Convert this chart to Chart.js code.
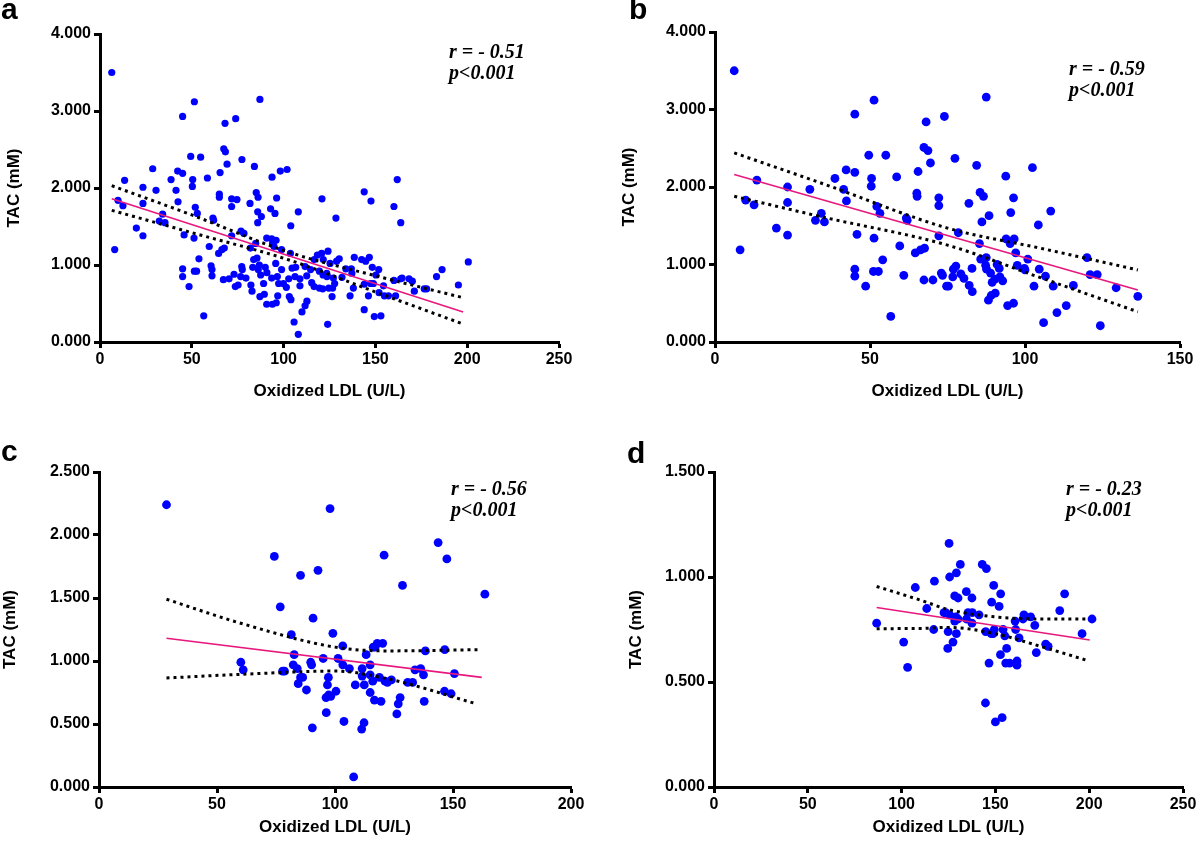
<!DOCTYPE html>
<html>
<head>
<meta charset="utf-8">
<script src="https://cdn.jsdelivr.net/npm/chart.js@4.4.1/dist/chart.umd.min.js"></script>
<style>
    html, body { margin: 0; padding: 0; background: #fff; }
    #fig { position: relative; width: 1200px; height: 841px; overflow: hidden; }
    canvas { position: absolute; }
    .letter { position: absolute; font: bold 30px "Liberation Sans", Arial, sans-serif; line-height: 30px; color: #000; }
    .stat { position: absolute; font: italic bold 20px "Liberation Serif", "Times New Roman", serif; line-height: 21px; color: #000; white-space: pre; }
</style>
</head>
<body>
<div id="fig">
    <canvas id="chartA" width="590" height="410" style="left:0px;top:0px"></canvas>
    <canvas id="chartB" width="590" height="410" style="left:610px;top:0px"></canvas>
    <canvas id="chartC" width="600" height="411" style="left:0px;top:430px"></canvas>
    <canvas id="chartD" width="590" height="411" style="left:610px;top:430px"></canvas>

    <div class="letter" style="left:1px;top:-6px">a</div>
    <div class="letter" style="left:629px;top:-6px">b</div>
    <div class="letter" style="left:1px;top:436px">c</div>
    <div class="letter" style="left:627px;top:438px">d</div>

    <div class="stat" style="left:449px;top:41px">r = - 0.51<br>p&lt;0.001</div>
    <div class="stat" style="left:1069px;top:58px">r = - 0.59<br>p&lt;0.001</div>
    <div class="stat" style="left:451px;top:478px">r = - 0.56<br>p&lt;0.001</div>
    <div class="stat" style="left:1066px;top:478px">r = - 0.23<br>p&lt;0.001</div>
</div>

<script>
// Data: [oxidized LDL (U/L), TAC (mM)]
const pointsA = [
    [6.4,3.50],[51.4,3.12],[87.1,3.15],[45.0,2.93],[68.1,2.84],[73.9,2.90],[67.4,2.51],[68.3,2.47],[49.4,2.41],[54.8,2.40],
    [69.2,2.31],[77.3,2.37],[84.1,2.28],[28.7,2.25],[42.3,2.22],[45.0,2.19],[38.7,2.11],[50.5,2.11],[58.5,2.13],[65.4,2.20],
    [93.7,2.14],[98.2,2.22],[101.9,2.24],[13.4,2.10],[23.4,2.01],[50.3,2.02],[30.5,1.97],[41.4,1.97],[65.0,1.92],[65.0,1.88],
    [71.7,1.86],[74.6,1.85],[71.7,1.76],[42.5,1.82],[23.4,1.80],[9.8,1.84],[12.5,1.77],[51.9,1.75],[53.0,1.67],[85.1,1.94],
    [86.1,1.88],[96.2,1.87],[120.9,1.86],[81.7,1.80],[92.9,1.73],[85.9,1.69],[87.9,1.63],[95.3,1.67],[108.0,1.69],[34.1,1.66],
    [32.3,1.57],[35.4,1.55],[61.5,1.61],[61.9,1.58],[85.9,1.55],[19.8,1.48],[23.4,1.38],[8.0,1.20],[45.8,1.39],[51.2,1.35],
    [71.7,1.38],[76.8,1.44],[78.4,1.41],[103.9,1.51],[59.5,1.24],[64.6,1.15],[66.4,1.20],[67.7,1.22],[53.9,1.08],[81.9,1.22],
    [84.8,1.28],[90.8,1.35],[93.5,1.34],[95.9,1.32],[94.0,1.28],[94.8,1.24],[98.9,1.20],[103.7,1.15],[60.5,0.99],[61.0,0.94],
    [61.0,0.86],[45.0,0.95],[45.0,0.85],[51.4,0.92],[52.6,0.92],[48.5,0.72],[56.5,0.34],[67.2,0.81],[70.3,0.82],[73.0,0.88],
    [73.7,0.72],[75.2,0.74],[77.2,0.98],[77.5,0.94],[76.6,0.85],[79.5,0.83],[82.2,0.74],[82.8,0.66],[83.2,0.97],[83.7,1.07],
    [85.5,1.09],[86.8,1.00],[86.2,0.94],[87.5,0.87],[89.1,0.76],[90.0,0.97],[90.9,0.90],[87.1,0.59],[89.5,0.62],[90.8,0.49],
    [93.9,0.49],[96.0,0.51],[96.8,0.60],[93.5,0.83],[95.7,1.02],[96.6,0.85],[97.3,0.76],[98.9,0.94],[99.9,0.76],[101.5,0.71],
    [102.8,0.82],[103.1,0.59],[104.0,0.55],[105.7,0.26],[108.0,0.10],[104.6,0.96],[106.6,0.97],[106.2,0.85],[108.9,0.82],[108.9,0.73],
    [110.0,0.39],[111.7,0.47],[112.7,0.53],[111.7,0.98],[112.6,0.86],[114.7,0.94],[115.3,0.77],[116.6,0.72],[116.7,1.07],[118.4,1.13],
    [120.7,1.15],[119.5,0.92],[119.5,0.70],[121.5,0.87],[123.5,0.89],[123.6,0.85],[124.0,0.23],[124.6,0.70],[124.2,1.18],
    [161.9,2.11],[143.9,1.95],[147.6,1.83],[160.1,1.76],[163.8,1.55],[128.5,1.61],[200.6,1.04],[186.3,0.94],[183.3,0.85],[195.2,0.74],
    [121.6,1.07],[125.3,1.02],[128.9,1.05],[130.3,1.08],[138.5,1.10],[142.5,1.07],[144.7,1.05],[146.7,1.10],[148.3,0.97],[151.8,0.94],
    [150.3,0.87],[133.9,0.95],[136.9,0.95],[137.2,0.89],[131.8,0.84],[127.1,0.83],[123.8,0.86],[127.8,0.76],[126.7,0.70],[126.4,0.59],
    [121.3,0.69],[138.0,0.70],[136.2,0.60],[143.9,0.75],[146.2,0.60],[147.4,0.76],[148.9,0.76],[152.0,0.64],[154.4,0.73],[154.9,0.60],
    [157.1,0.60],[160.1,0.80],[161.0,0.60],[163.8,0.82],[164.5,0.83],[168.3,0.82],[170.1,0.79],[171.2,0.66],[176.6,0.69],[177.9,0.69],
    [143.9,0.42],[149.4,0.33],[153.0,0.34]
];
const pointsB = [
    [6.2,3.50],[8.1,1.19],[13.5,2.09],[9.9,1.83],[12.6,1.77],[19.8,1.47],[23.4,2.00],[23.4,1.80],[23.4,1.38],[30.6,1.97],
    [32.4,1.57],[34.3,1.66],[35.3,1.55],[38.7,2.11],[41.5,1.97],[42.3,2.22],[42.4,1.82],[45.1,2.94],[45.1,2.19],[45.1,0.94],
    [45.1,0.85],[45.8,1.39],[48.6,0.72],[49.6,2.41],[50.5,2.11],[50.4,2.01],[51.3,3.12],[51.3,1.34],[51.1,0.91],[52.7,0.91],
    [52.2,1.75],[53.2,1.66],[54.1,1.06],[55.1,2.41],[56.7,0.33],[58.6,2.13],[59.6,1.24],[60.9,0.86],[61.7,1.60],[62.0,1.57],
    [64.6,1.15],[65.5,2.20],[65.1,1.92],[65.2,1.88],[66.3,1.19],[67.6,1.21],[67.4,0.80],[68.1,2.84],[67.4,2.51],[68.7,2.47],
    [69.5,2.31],[70.3,0.80],[72.2,1.86],[72.2,1.76],[72.2,1.37],[73.0,0.89],[73.4,0.86],[74.0,2.91],[74.7,0.72],[75.3,0.72],
    [87.5,3.16],[77.4,2.37],[84.4,2.28],[93.8,2.14],[102.4,2.25],[85.5,1.93],[86.6,1.88],[81.9,1.79],[96.3,1.86],[95.4,1.67],
    [88.4,1.63],[86.1,1.55],[108.3,1.69],[104.3,1.51],[78.5,1.41],[93.9,1.33],[96.5,1.33],[95.2,1.27],[85.3,1.27],[97.0,1.15],
    [100.9,1.07],[87.5,1.09],[85.7,1.07],[91.0,1.00],[97.5,0.99],[99.8,0.95],[100.0,0.93],[104.6,0.94],[106.6,0.85],[91.7,0.95],
    [87.3,0.99],[87.6,0.94],[88.9,0.89],[82.9,0.95],[77.7,0.98],[76.9,0.94],[76.7,0.84],[79.3,0.88],[80.3,0.82],[91.9,0.84],
    [92.8,0.79],[90.3,0.81],[89.4,0.77],[82.0,0.73],[83.0,0.65],[90.4,0.63],[89.1,0.60],[88.2,0.54],[94.4,0.47],[96.3,0.50],
    [102.9,0.72],[109.1,0.72],[115.6,0.73],[113.3,0.47],[110.3,0.38],[106.0,0.25],[120.0,1.09],[121.0,0.87],[123.3,0.87],[124.3,0.21],
    [129.4,0.70],[136.4,0.59]
];
const pointsC = [
    [28.6,2.24],[97.9,2.21],[74.3,1.83],[92.8,1.72],[85.4,1.68],[76.8,1.43],[90.7,1.34],[99.1,1.22],[81.5,1.21],[82.7,1.05],
    [95.0,1.02],[101.3,1.02],[60.1,0.99],[61.1,0.93],[77.8,0.92],[78.6,0.92],[82.3,0.97],[84.0,0.94],[89.7,0.99],[90.1,0.97],
    [97.2,0.87],[96.8,0.81],[85.4,0.87],[86.3,0.87],[84.4,0.82],[87.9,0.77],[96.2,0.71],[97.3,0.73],[98.2,0.72],[100.4,0.76],
    [96.3,0.59],[90.4,0.47],[107.9,0.08],
    [143.7,1.94],[147.4,1.81],[120.8,1.84],[128.6,1.60],[163.5,1.53],[103.3,1.12],[103.3,0.97],[106.1,0.94],[113.2,1.05],[117.0,1.11],
    [117.9,1.14],[120.2,1.14],[116.2,1.11],[111.5,0.94],[114.9,0.97],[114.9,0.89],[111.5,0.88],[116.0,0.84],[118.8,0.87],[121.2,0.84],
    [122.2,0.83],[123.9,0.85],[108.6,0.81],[112.4,0.81],[114.9,0.75],[116.7,0.69],[119.5,0.68],[103.8,0.52],[112.3,0.51],[111.3,0.46],
    [127.6,0.71],[126.8,0.66],[126.2,0.58],[130.8,0.83],[132.9,0.83],[133.9,0.93],[136.3,0.94],[137.5,0.89],[137.8,0.68],[138.3,1.08],
    [146.5,1.09],[146.4,0.76],[149.2,0.74],[150.6,0.90]
];
const pointsD = [
    [86.7,0.78],[101.1,0.69],[103.2,0.57],[107.3,0.95],[113.4,0.85],[117.5,0.98],[117.1,0.75],[122.6,0.83],[123.5,0.83],[124.8,0.74],
    [124.6,0.66],[125.3,1.16],[125.6,1.00],
    [131.3,1.06],[129.2,1.02],[143.0,1.06],[145.2,1.04],[149.1,0.96],[152.8,0.92],[148.0,0.88],[152.0,0.86],[134.5,0.93],[128.3,0.91],
    [130.1,0.90],[137.5,0.90],[186.9,0.92],[184.3,0.84],[201.5,0.80],[196.2,0.73],[125.6,0.82],[128.9,0.81],[130.1,0.80],[135.4,0.83],
    [137.7,0.83],[141.3,0.82],[134.6,0.80],[128.3,0.79],[137.5,0.78],[129.2,0.73],[127.4,0.69],[144.8,0.74],[147.8,0.73],[149.4,0.75],
    [148.8,0.73],[154.1,0.75],[155.0,0.72],[156.0,0.66],[152.7,0.63],[146.6,0.59],[155.5,0.59],[157.6,0.59],[161.5,0.60],[161.5,0.58],
    [160.5,0.79],[160.8,0.75],[162.6,0.71],[164.7,0.80],[165.2,0.82],[168.8,0.81],[171.0,0.77],[171.8,0.64],[176.8,0.68],[178.1,0.67],
    [144.7,0.40],[150.0,0.31],[153.6,0.33]
];

// Fitted line and 95% bands
const fitA = [[6.4,1.86],[197.8,0.39]];
const upperA = [[6.4,2.03],[50,1.65],[103,1.165],[150,0.86],[197,0.58]];
const lowerA = [[6.4,1.71],[50,1.42],[103,1.065],[150,0.65],[197,0.24]];

const fitB = [[6.2,2.16],[136.4,0.67]];
const upperB = [[6.2,2.44],[35,2.04],[75,1.47],[105,1.21],[136.4,0.93]];
const lowerB = [[6.2,1.88],[35,1.61],[75,1.25],[105,0.83],[136.4,0.39]];

const fitC = [[28.6,1.18],[162.2,0.87]];
const upperC = [[28.6,1.49],[60,1.30],[100,1.11],[122,1.08],[161.5,1.09]];
const lowerC = [[28.6,0.865],[60,0.894],[100,0.92],[122,0.86],[160,0.66]];

const fitD = [[86.7,0.855],[200.3,0.70]];
const upperD = [[86.7,0.955],[110,0.89],[125,0.845],[150,0.81],[175,0.80],[200,0.80]];
const lowerD = [[86.7,0.754],[110,0.755],[125,0.76],[150,0.73],[175,0.667],[200,0.60]];

// Axis ranges / tick steps
const xTicksA = [0, 250, 50], yTicksA = [0, 4, 1];
const xTicksB = [0, 150, 50], yTicksB = [0, 4, 1];
const xTicksC = [0, 200, 50], yTicksC = [0, 2.5, 0.5];
const xTicksD = [0, 250, 50], yTicksD = [0, 1.5, 0.5];

const SANS = '"Liberation Sans", Arial, sans-serif';
const toXY = arr => arr.map(p => ({ x: p[0], y: p[1] }));

function axisStyle() {
    return {
        border: { display: true, color: '#000', width: 3 },
        grid: { display: true, drawOnChartArea: false, drawTicks: true, tickLength: 6, tickWidth: 3, tickColor: '#000' },
    };
}

function makePanel(id, pts, fit, upper, lower, xr, yr, lay) {
    const ctx = document.getElementById(id).getContext('2d');
    const band = data => ({
        data: toXY(data), showLine: true, pointRadius: 0, borderColor: '#000', borderWidth: 3,
        borderDash: [3, 4], cubicInterpolationMode: 'monotone', fill: false, order: 1
    });
    return new Chart(ctx, {
        type: 'scatter',
        data: {
            datasets: [
                { data: toXY(fit), showLine: true, pointRadius: 0, borderColor: '#e8177d', borderWidth: 1.6, fill: false, order: 0 },
                band(upper),
                band(lower),
                { data: toXY(pts), pointRadius: lay.r, pointHoverRadius: lay.r, backgroundColor: '#0000ff', borderWidth: 0, order: 2 }
            ]
        },
        options: {
            responsive: false,
            animation: false,
            layout: { padding: { top: lay.top, right: lay.right, bottom: 0, left: 0 } },
            plugins: { legend: { display: false }, tooltip: { enabled: false } },
            scales: {
                x: {
                    type: 'linear', min: xr[0], max: xr[1],
                    ...axisStyle(),
                    ticks: { stepSize: xr[2], color: '#000', padding: 2, font: { family: SANS, size: 16, weight: 'bold' } },
                    title: { display: true, text: 'Oxidized LDL (U/L)', color: '#000', padding: { top: 0, bottom: lay.xtPad },
                        font: { family: SANS, size: 17, weight: 'bold' } },
                    afterFit: s => { s.height = lay.xH; }
                },
                y: {
                    type: 'linear', min: yr[0], max: yr[1],
                    ...axisStyle(),
                    ticks: { stepSize: yr[2], color: '#000', padding: 3, font: { family: SANS, size: 16, weight: 'bold' },
                        callback: v => v.toFixed(3) },
                    title: { display: true, text: 'TAC (mM)', color: '#000', padding: { top: lay.ytPad, bottom: 0 },
                        font: { family: SANS, size: 17, weight: 'bold' } },
                    afterFit: s => { s.width = lay.yW; }
                }
            }
        }
    });
}

makePanel('chartA', pointsA, fitA, upperA, lowerA, xTicksA, yTicksA,
    { top: 34, right: 31, yW: 100, xH: 68, xtPad: 8, ytPad: 4, r: 3.6 });
makePanel('chartB', pointsB, fitB, upperB, lowerB, xTicksB, yTicksB,
    { top: 32, right: 20, yW: 105, xH: 68, xtPad: 8, ytPad: 9, r: 4.4 });
makePanel('chartC', pointsC, fitC, upperC, lowerC, xTicksC, yTicksC,
    { top: 42, right: 29, yW: 99, xH: 54, xtPad: 3, ytPad: 0, r: 4.4 });
makePanel('chartD', pointsD, fitD, upperD, lowerD, xTicksD, yTicksD,
    { top: 42, right: 17, yW: 104, xH: 54, xtPad: 3, ytPad: 16, r: 4.4 });
</script>
</body>
</html>
